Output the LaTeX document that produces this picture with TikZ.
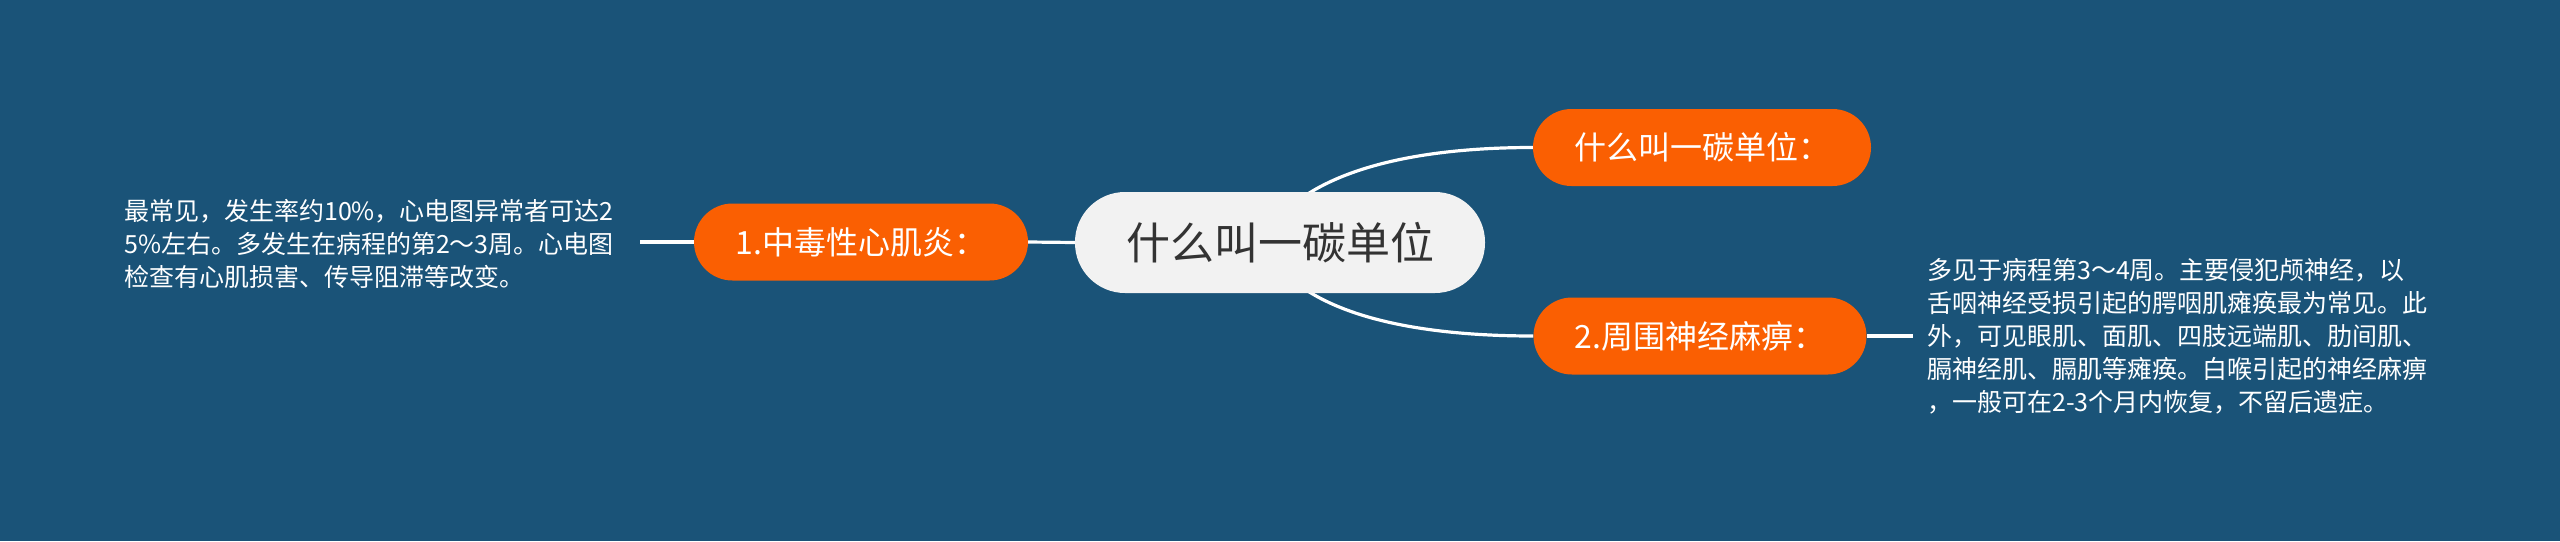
\documentclass[tikz,border=0pt]{standalone}
\usepackage{fontspec}
\setmainfont{Noto Sans CJK SC}
\usetikzlibrary{calc}
\definecolor{bgc}{RGB}{26,83,120}
\definecolor{org}{RGB}{250,95,2}
\definecolor{cfill}{RGB}{242,242,242}
\definecolor{ctext}{RGB}{51,51,51}
\pgfdeclarelayer{bgl}
\pgfdeclarelayer{lines}
\pgfsetlayers{bgl,lines,main}
\tikzset{
  rootbox/.style={fill=cfill, text=ctext, rounded corners=50pt, minimum width=410pt, minimum height=101pt, inner sep=0pt, font=\fontsize{44}{50}\selectfont},
  topicbox/.style={fill=org, text=white, rounded corners=38.5pt, minimum height=77pt, inner sep=0pt, font=\fontsize{32}{38}\selectfont},
  leafbox/.style={text=white, align=left, anchor=west, inner sep=0pt, font=\fontsize{25}{33}\selectfont},
  linkline/.style={draw=white, line width=3.2pt}
}
\begin{document}
\begin{tikzpicture}[x=1pt,y=-1pt]
\begin{pgfonlayer}{bgl}
  \fill[bgc] (0,0) rectangle (2560,541);
\end{pgfonlayer}
\useasboundingbox (0,0) rectangle (2560,541);

\node[rootbox] (c) at (1280,242.5) {什么叫一碳单位};
\node[topicbox, minimum width=334pt] (n1) at (861,242) {1.中毒性心肌炎：};
\node[topicbox, minimum width=338pt] (t) at (1702,147.5) {什么叫一碳单位：};
\node[topicbox, minimum width=333pt] (b) at (1700,336) {2.周围神经麻痹：};
\node[leafbox] (lL) at (124,244) {最常见，发生率约10\%，心电图异常者可达2\\5\%左右。多发生在病程的第2～3周。心电图\\检查有心肌损害、传导阻滞等改变。};
\node[leafbox] (lR) at (1927,336) {多见于病程第3～4周。主要侵犯颅神经，以\\舌咽神经受损引起的腭咽肌瘫痪最为常见。此\\外，可见眼肌、面肌、四肢远端肌、肋间肌、\\膈神经肌、膈肌等瘫痪。白喉引起的神经麻痹\\，一般可在2-3个月内恢复，不留后遗症。};

\begin{pgfonlayer}{lines}
  \draw[linkline] (n1.west) -- ($(lL.east |- n1.west)+(26,0)$);
  \draw[linkline] (n1.east) -- (c.west);
  \draw[linkline] ([xshift=22pt,yshift=-6pt]c.north) .. controls +(43,-30) and +(-113,0) .. (t.west);
  \draw[linkline] ([xshift=22pt,yshift=6pt]c.south) .. controls +(43,30) and +(-113,0) .. (b.west);
  \draw[linkline] (b.east) -- ($(lR.west |- b.east)+(-14,0)$);
\end{pgfonlayer}
\end{tikzpicture}
\end{document}
